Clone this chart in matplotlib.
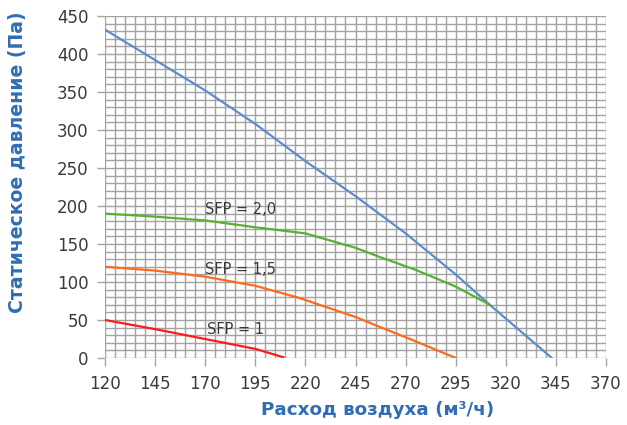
import numpy as np
import matplotlib.pyplot as plt
from matplotlib.ticker import MultipleLocator

# curve data (flow m3/h, pressure Pa)
fan_x = [120, 145, 170, 195, 220, 245, 270, 295, 312, 343]
fan_y = [432, 392, 352, 308, 259, 213, 164, 110, 70, 0]

sfp20_x = [120, 145, 170, 195, 220, 245, 257, 275, 295, 312]
sfp20_y = [190, 186, 181, 172, 164, 145, 133, 116, 94, 70]

sfp15_x = [120, 145, 170, 195, 217, 245, 257, 275, 295]
sfp15_y = [120, 115, 107, 95, 79, 54, 41, 22, 0]

sfp10_x = [120, 145, 170, 195, 209]
sfp10_y = [50, 38, 25, 12, 1]

labels = ["SFP = 2,0", "SFP = 1,5", "SFP = 1"]
label_pos = [(170, 195), (170, 116), (171, 37)]

x_ticks = list(range(120, 371, 25))
y_ticks = list(range(0, 451, 50))

grid_c = '#a3a3a3'
text_c = '#3a3a3a'
title_c = '#2f6db5'

fig = plt.figure(figsize=(6.27, 4.25), dpi=100)
ax = fig.add_axes([0.1675, 0.1576, 0.799, 0.8048])

ax.plot(fan_x, fan_y, color='#5b8ccc', lw=1.6)
ax.plot(sfp20_x, sfp20_y, color='#58b030', lw=1.6)
ax.plot(sfp15_x, sfp15_y, color='#ff6a1a', lw=1.6)
ax.plot(sfp10_x, sfp10_y, color='#ff1a1a', lw=1.6)

for txt, (tx, ty) in zip(labels, label_pos):
    ax.text(tx, ty, txt, fontsize=10.5, color=text_c, va='center', ha='left')

ax.set_xlim(120, 370)
ax.set_ylim(0, 450)
ax.set_xticks(x_ticks)
ax.set_yticks(y_ticks)
ax.xaxis.set_minor_locator(MultipleLocator(5))
ax.yaxis.set_minor_locator(MultipleLocator(10))
ax.grid(which='both', color=grid_c, lw=1.0)
ax.set_axisbelow(True)
for s in ax.spines.values():
    s.set_visible(False)
ax.tick_params(which='major', length=6, width=1.0, color=grid_c,
               labelsize=12, labelcolor=text_c, pad=6)
ax.tick_params(which='minor', length=0)

# axis titles placed like in the reference (slightly off-centre)
fig.text(378 / 627, 1 - 410 / 425, 'Расход воздуха (м³/ч)', fontsize=13.2,
         fontweight='bold', color=title_c, ha='center', va='center')
fig.text(18 / 627, 1 - 162 / 425, 'Статическое давление (Па)', fontsize=13.6,
         fontweight='bold', color=title_c, ha='center', va='center',
         rotation=90)

fig.savefig('out.png', dpi=100)
